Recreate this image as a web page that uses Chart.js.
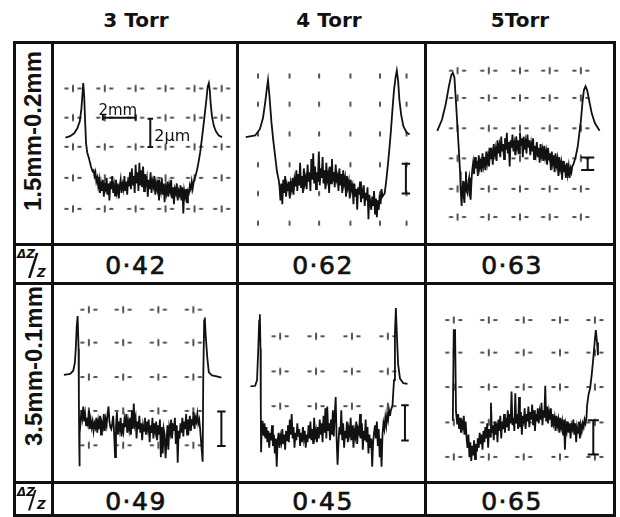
<!DOCTYPE html>
<html>
<head>
<meta charset="utf-8">
<script src="https://cdn.jsdelivr.net/npm/chart.js@4.4.0/dist/chart.umd.min.js"></script>
<style>
body{margin:0;background:#fff;}
#fig{position:relative;width:620px;height:517px;overflow:hidden;background:#fff;font-family:"DejaVu Sans",sans-serif;color:#111;}
.ln{position:absolute;background:#111;z-index:5;}
.head{position:absolute;top:10px;font-weight:bold;font-size:20px;line-height:20px;transform:translateX(-50%);white-space:nowrap;}
.val{position:absolute;font-size:25px;line-height:24px;letter-spacing:1.5px;-webkit-text-stroke:0.7px #111;transform:translateX(-50%);white-space:nowrap;}
.side{position:absolute;font-family:"Liberation Sans",sans-serif;font-weight:bold;font-size:24px;line-height:24px;white-space:nowrap;transform:translate(-50%,-50%) rotate(-90deg);}
.dz{position:absolute;font-weight:bold;font-style:italic;font-family:"DejaVu Sans",sans-serif;line-height:1;}
canvas{position:absolute;}
</style>
</head>
<body>
<div id="fig"></div>
<script>
// column / row headings
const pressures = ['3 Torr', '4 Torr', '5Torr'];
const gaps = ['1.5mm-0.2mm', '3.5mm-0.1mm'];
const ratios = [['0·42', '0·62', '0·63'], ['0·49', '0·45', '0·65']];

// profiles: x along the gap, height above panel floor
const left11 = [[8,106.7],[13,108.3],[17.3,111.3],[20.7,116.7],[23.3,124],[25,137.3],[26,150.7],[27,164.7],[28,150.7],[29,124],[30,100.7],[31.3,90.7],[33.3,84],[35.3,75.7],[37,71]];
const noise11 = [72,66,70,60,64,55,62,48,58,50,62,44,56,52,64,46,58,40,60,52,66,48,56,45,62,50,58,42,55,62,48,57,52,66,50,60,46,63,55,70,52,74,56,66,48,78,58,70,50,80,56,72,54,76,50,68,58,64,44,62,52,70,48,60,55,66,46,58,52,62,40,56,50,64,46,58,38,54,48,60,44,56,50,62,42,54,36,52,48,58,40,50,46,56,40,54,26,50,44,52,38,50,48,56,52,60];
const right11 = [[144,52.3],[145.3,60.7],[147,65.7],[148.7,72.3],[150.3,80.7],[152,90.7],[153.7,104],[155.3,117.3],[157,132.3],[158.7,147.3],[160,160.7],[161.3,164.7],[162.3,157.3],[163.3,142.3],[164.7,129],[166.7,119],[169,113.3],[172,109],[175.3,107.3]];

const left12 = [[3,107.3],[13,109],[18,115.7],[21.3,127.3],[23.7,144],[25.3,157.3],[26.7,168],[28.3,150.7],[30.3,124],[32.3,104],[34.3,87.3],[36.3,70.7],[38.3,60.7]];
const noise12 = [55,40,58,36,62,48,66,44,56,50,60,42,58,52,64,46,62,55,72,50,68,56,80,54,66,48,74,58,64,52,78,60,70,50,84,62,90,58,76,52,70,60,92,56,74,64,86,58,72,52,80,62,68,48,76,58,84,60,70,54,78,62,66,50,74,56,68,48,72,58,64,44,66,54,60,42,62,52,56,36,58,44,52,30,54,46,60,38,50,42,56,34,48,40,54,20,46,38,30,44,34,50,26,42,22,40,30,46,36,52,44];
const right12 = [[151.3,47.3],[153,60.7],[154.7,77.3],[156.3,94],[158,114],[159.7,137.3],[161.3,157.3],[163,170.7],[164.3,178],[165.7,167.3],[167,147.3],[169,130.7],[171.3,119],[174.7,112.3],[178,110]];

const left13 = [[6.7,114],[11.7,125.7],[15.7,142.3],[19,160.7],[21.7,173.3],[23.3,175.7],[25,170.7],[26.7,144],[28.3,117.3],[29.7,94],[31,70.7],[31.7,50.7],[32.7,34],[33.5,52],[34.3,60.7],[35,44],[35.7,37.3],[36.5,58],[37.3,70.7],[38,50],[39,47.3],[40,60],[40.7,64],[41.5,46],[42.3,40.7],[43.3,62]];
const noise13 = [72,80,68,86,74,82,66,88,76,84,70,90,78,86,72,92,80,88,76,96,84,90,78,100,86,94,82,104,90,98,86,108,92,100,84,106,94,112,90,102,76,104,96,110,92,100,88,108,96,104,90,112,98,106,86,108,94,102,90,110,96,104,88,100,92,106,84,98,90,102,86,96,80,100,88,94,82,98,86,92,78,96,84,90,72,92,80,88,70,90,78,84,66,86,74,80,62,82,70,78,64,80,68,76,64,74,70,77];
const right13 = [[151.7,77.3],[154.3,85.7],[156.7,97.3],[158.3,110.7],[160,124],[161.7,144],[163.3,157.3],[165,161.3],[166.7,157.3],[169,145.7],[171.7,132.3],[175,122.3],[180,114]];

const left21 = [[6.3,107.7],[13,108.7],[16.3,112],[18,120.3],[19,135.3],[20,158.7],[21,170.3],[22,135.3],[22.3,85.3],[22.7,35.3],[22.9,10.3],[23.3,45.3],[24,55.3]];
const noise21 = [70,62,74,58,66,54,62,56,70,50,60,52,58,48,56,52,62,46,58,50,64,44,56,52,66,48,60,54,66,74,58,52,50,56,64,46,20,52,68,44,58,50,62,42,56,48,60,52,66,46,58,50,62,44,70,50,77,56,62,40,58,50,64,46,56,38,54,48,62,44,58,50,60,36,54,46,62,40,56,48,58,38,54,44,60,20,52,24,50,44,19,36,54,28,52,46,60,40,56,48,62,34,54,14,48,40,56,46,62,42,58,50,66,44,60,52,64,48,58,56,68,50,62,58,66,56,60];
const right21 = [[152,50],[153.5,30],[154.7,15.3],[155.3,102],[156.3,165.3],[157,168.7],[158,148.7],[159.7,125.3],[161.3,110.3],[164.7,107],[169.7,106],[174.7,104.7]];

const left22 = [[8,95.3],[13,96],[15,102],[16.3,135.3],[17.3,165.3],[18,172],[18.7,135.3],[19,75.3],[19.3,25.3],[20.3,58.7],[21,45.3]];
const noise22 = [44,56,40,52,36,48,30,46,38,54,32,44,24,40,10,38,46,30,42,36,50,34,44,28,48,38,54,36,60,44,66,40,52,30,46,38,56,42,50,32,46,36,52,40,48,30,44,36,54,40,58,38,50,34,62,42,48,36,52,40,60,44,56,36,64,46,72,40,74,48,56,38,60,44,70,42,66,84,40,12,36,52,44,70,38,56,30,48,40,58,36,50,44,62,38,54,30,48,42,58,34,50,46,66,40,56,28,48,38,60,36,52,24,44,30,40,10,36,46,54,40,58,32,50,20,40,10,44,56,50,62,54,66,60,70,64,70];
const right22 = [[159.7,75.3],[161.3,102],[162.3,152],[163.3,178.7],[164.3,152],[165.7,118.7],[167.7,103.7],[171.3,98.7],[175.7,98]];

const left23 = [[23.3,58.7],[24.3,155.3],[25.7,155.3],[26.7,68.7]];
const noise23 = [55,66,50,62,46,60,52,64,44,58,40,30,44,20,36,16,32,22,38,18,34,26,40,30,46,34,44,28,48,36,52,40,56,30,50,42,78,46,54,38,58,44,56,36,60,48,64,40,58,50,66,46,62,52,70,48,66,56,90,54,62,48,88,56,66,50,84,52,68,44,64,56,72,50,66,58,74,52,68,60,76,54,70,48,66,58,72,56,68,60,78,54,70,62,96,58,74,56,68,60,72,52,66,56,62,48,64,54,60,46,62,52,58,44,60,28,54,48,58,46,56,40,54,50,60,44,56,36,52,46,58,40,54,48,56,52,60,56,62];
const right23 = [[166.7,75.3],[168.3,87],[170,93.7],[171.7,108.7],[173.3,125.3],[175,145.3],[176,155.3],[177.3,142],[178.3,128.7]];

// grid crosses of the recorder chart paper
const gridX11 = [16,50,83,115,146,175], gridY11 = [159,128,97,64,31];
const gridX12 = [16,49.7,81.3,114.7,146.3,174.7], gridY12 = [172.3,142.3,110.7,78,47.3,15.7];
const gridX13 = [28.3,61.7,95,126.7,160], gridY13 = [178,149,116.7,84.7,52.3,22.3];
const gridX21 = [33,69.7,107.3,144.7], gridY21 = [177,142,105.3,69.3,32.7];
const gridX22 = [39.7,78,116.3,154.7], gridY22 = [148.7,111.3,74.3];
const gridX23 = [24.3,61.7,99,137.7,175], gridY23 = [166,131.3,94.7,57,20.3];

// vertical scale bars: x, bottom, top, half width of the end ticks
const bar11 = [98.7, 96.7, 126.7, 3];
const bar12 = [174, 47.3, 79, 4.5];
const bar13 = [167.3, 72.3, 85.7, 7];
const bar21 = [174.7, 32, 68.7, 4.5];
const bar22 = [173, 37.7, 75.3, 4];
const bar23 = [173.3, 23, 59.3, 6];
// 2 mm horizontal bar in the first panel: x from, x to, height
const mmBar = [48, 83, 128];

const colLeft = [52, 237, 425];
const colW = [185, 188, 189];
const rowTop = [43, 283];
const rowH = [201, 199];

const fig = document.getElementById('fig');

function markCanvas(dashes){
    const c = document.createElement('canvas');
    c.width = 22; c.height = 10;
    const g = c.getContext('2d');
    g.strokeStyle = '#1a1a1a';
    g.lineWidth = 1.5;
    g.beginPath();
    if(dashes){
        g.moveTo(11,1.5); g.lineTo(11,8.5);
        g.moveTo(2.5,5); g.lineTo(6.5,5);
        g.moveTo(15.5,5); g.lineTo(19.5,5);
    }else{
        g.moveTo(11,2.5); g.lineTo(11,7.5);
    }
    g.stroke();
    return c;
}
const crossMark = markCanvas(true);
const tickMark = markCanvas(false);

function buildTrace(left, noise, right){
    const start = Math.ceil(left[left.length-1][0] + 0.5);
    return [
        ...left.map(p => ({x: p[0], y: p[1]})),
        ...noise.map((v, i) => ({x: start + i, y: v})),
        ...right.map(p => ({x: p[0], y: p[1]}))
    ];
}

function barData(b){
    const [x, lo, hi, hw] = b;
    return [
        {x: x-hw, y: hi}, {x: x+hw, y: hi}, {x: x, y: null},
        {x: x, y: hi}, {x: x, y: lo}, {x: x, y: null},
        {x: x-hw, y: lo}, {x: x+hw, y: lo}
    ];
}

const panels = [
    {r:0, c:0, left:left11, noise:noise11, right:right11, gx:gridX11, gy:gridY11, bar:bar11, mark:crossMark, first:true},
    {r:0, c:1, left:left12, noise:noise12, right:right12, gx:gridX12, gy:gridY12, bar:bar12, mark:tickMark},
    {r:0, c:2, left:left13, noise:noise13, right:right13, gx:gridX13, gy:gridY13, bar:bar13, mark:crossMark},
    {r:1, c:0, left:left21, noise:noise21, right:right21, gx:gridX21, gy:gridY21, bar:bar21, mark:crossMark},
    {r:1, c:1, left:left22, noise:noise22, right:right22, gx:gridX22, gy:gridY22, bar:bar22, mark:crossMark},
    {r:1, c:2, left:left23, noise:noise23, right:right23, gx:gridX23, gy:gridY23, bar:bar23, mark:crossMark}
];

const scaleText = {
    id: 'scaleText',
    afterDatasetsDraw(chart, args, opts){
        if(!opts.on) return;
        const {ctx, scales: {x, y}} = chart;
        ctx.save();
        ctx.fillStyle = '#111';
        ctx.textBaseline = 'alphabetic';
        ctx.font = '15px "DejaVu Sans"';
        ctx.textAlign = 'center';
        ctx.fillText('2mm', x.getPixelForValue(64), y.getPixelForValue(131));
        ctx.font = '16px "DejaVu Sans"';
        ctx.textAlign = 'left';
        ctx.fillText('2μm', x.getPixelForValue(103), y.getPixelForValue(103));
        ctx.restore();
    }
};

panels.forEach(p => {
    const w = colW[p.c], h = rowH[p.r];
    const cv = document.createElement('canvas');
    cv.width = w; cv.height = h;
    cv.style.left = colLeft[p.c] + 'px';
    cv.style.top = rowTop[p.r] + 'px';
    fig.appendChild(cv);

    const marks = [];
    p.gx.forEach(gx => p.gy.forEach(gy => marks.push({x: gx, y: gy})));

    const datasets = [
        {data: buildTrace(p.left, p.noise, p.right), borderColor: '#111', borderWidth: 1.8, pointRadius: 0, tension: 0, order: 0},
        {data: barData(p.bar), borderColor: '#111', borderWidth: 2, pointRadius: 0, spanGaps: false, order: 1},
        {data: marks, showLine: false, pointStyle: p.mark, pointRadius: 5, clip: false, order: 2}
    ];
    if(p.first){
        datasets.push({
            data: [{x: mmBar[0], y: mmBar[2]+3}, {x: mmBar[0], y: mmBar[2]-3}, {x: mmBar[0], y: mmBar[2]},
                   {x: mmBar[1], y: mmBar[2]}, {x: mmBar[1], y: mmBar[2]+3}, {x: mmBar[1], y: mmBar[2]-3}],
            borderColor: '#111', borderWidth: 2, pointRadius: 0, order: 1
        });
    }

    new Chart(cv, {
        type: 'line',
        data: {datasets},
        options: {
            responsive: false,
            animation: false,
            layout: {padding: 0},
            scales: {
                x: {type: 'linear', min: 0, max: w, display: false},
                y: {type: 'linear', min: 0, max: h, display: false}
            },
            plugins: {legend: {display: false}, tooltip: {enabled: false}, scaleText: {on: !!p.first}}
        },
        plugins: [scaleText]
    });
});

// table rules
function rule(x, y, w, h){
    const d = document.createElement('div');
    d.className = 'ln';
    d.style.left = x + 'px'; d.style.top = y + 'px';
    d.style.width = w + 'px'; d.style.height = h + 'px';
    fig.appendChild(d);
}
[14, 52, 237, 425, 614].forEach(x => rule(x - 1.5, 41, 3, 476));
[42, 244, 283, 482, 515].forEach(y => rule(12.5, y - 1.5, 603, 3));

// texts
function text(cls, str, x, y){
    const d = document.createElement('div');
    d.className = cls;
    d.textContent = str;
    d.style.left = x + 'px'; d.style.top = y + 'px';
    fig.appendChild(d);
    return d;
}
[136, 329, 520].forEach((x, i) => text('head', pressures[i], x, 10));
[136, 323, 512].forEach((x, i) => {
    text('val', ratios[0][i], x, 254);
    text('val', ratios[1][i], x, 490);
});
text('side', gaps[0], 33, 131);
text('side', gaps[1], 34, 366);

[[244, 283], [482, 515]].forEach(([t, b]) => {
    const a = text('dz', 'ΔZ', 17, t + 4); a.style.fontSize = '12px';
    const s = text('dz', '/', 28, t + 5); s.style.fontSize = (b - t - 8) + 'px'; s.style.fontStyle = 'normal'; s.style.fontWeight = 'normal';
    const z = text('dz', 'Z', 37, b - 16); z.style.fontSize = '12px';
});
</script>
</body>
</html>
